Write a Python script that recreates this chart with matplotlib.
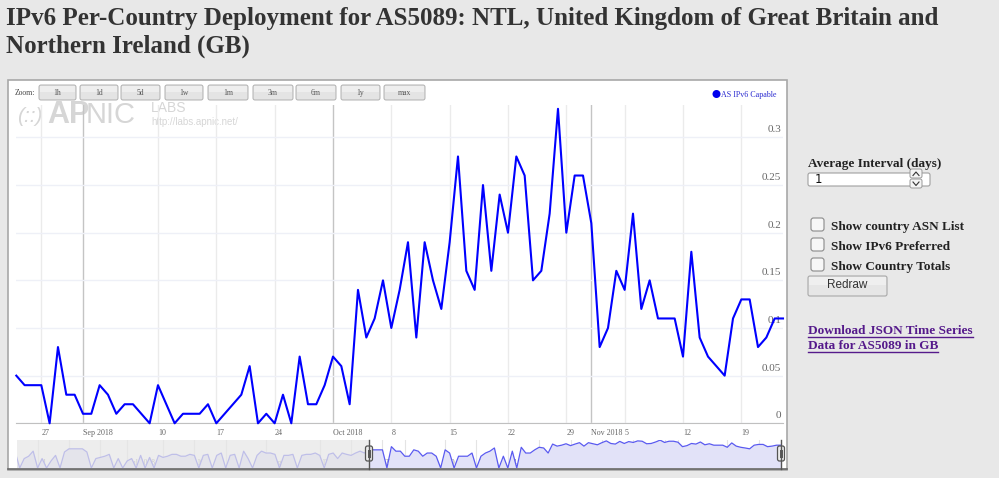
import matplotlib
matplotlib.use('Agg')
import matplotlib.pyplot as plt
import matplotlib.dates as mdates
import matplotlib.transforms as mtransforms
from matplotlib.patches import Rectangle, FancyBboxPatch, Circle
import numpy as np

plt.rcParams['font.family'] = ['Liberation Serif', 'DejaVu Serif']

W, H = 999, 478

# daily "AS IPv6 Capable" ratio, 24 Aug 2018 .. 24 Nov 2018
start = np.datetime64('2018-08-24')
capable = [0.05, 0.04, 0.04, 0.04, 0.0, 0.08, 0.03, 0.03, 0.01, 0.01,
           0.04, 0.03, 0.01, 0.02, 0.02, 0.01, 0.0, 0.04, 0.02, 0.0,
           0.01, 0.01, 0.01, 0.02, 0.0, 0.01, 0.02, 0.03, 0.06, 0.0,
           0.01, 0.0, 0.03, 0.0, 0.07, 0.02, 0.02, 0.04, 0.07, 0.06,
           0.02, 0.14, 0.09, 0.11, 0.15, 0.10, 0.14, 0.19, 0.09, 0.19,
           0.15, 0.12, 0.19, 0.28, 0.16, 0.14, 0.25, 0.16, 0.24, 0.20,
           0.28, 0.26, 0.15, 0.16, 0.22, 0.33, 0.20, 0.26, 0.26, 0.21,
           0.08, 0.10, 0.16, 0.14, 0.22, 0.12, 0.15, 0.11, 0.11, 0.11,
           0.07, 0.18, 0.09, 0.07, 0.06, 0.05, 0.11, 0.13, 0.13, 0.08,
           0.09, 0.11, 0.11]

# older history only visible in the navigator (days before 24 Aug)
nav_early = [0.025, 0.0, 0.008, 0.01, 0.03, 0.0, 0.008, 0.0, 0.006, 0.012,
             0.0, 0.025, 0.05, 0.05, 0.05, 0.05, 0.025, 0.0, 0.008, 0.009,
             0.01, 0.015, 0.0, 0.008, 0.0, 0.006, 0.008, 0.0, 0.012, 0.0,
             0.009, 0.0, 0.012, 0.009, 0.01, 0.015, 0.015, 0.01, 0.01, 0.015,
             0.012, 0.0, 0.012, 0.015, 0.0, 0.012, 0.02, 0.0, 0.012, 0.015,
             0.0, 0.03, 0.008, 0.0, 0.012, 0.03, 0.02, 0.02, 0.015, 0.0,
             0.012, 0.012, 0.015, 0.0, 0.012, 0.015, 0.015, 0.02, 0.012, 0.0,
             0.015, 0.02, 0.008, 0.02, 0.015, 0.012, 0.02, 0.03, 0.02]

main_ticks = ['2018-08-27', '2018-09-01', '2018-09-10', '2018-09-17', '2018-09-24',
              '2018-10-01', '2018-10-08', '2018-10-15', '2018-10-22', '2018-10-29',
              '2018-11-01', '2018-11-05', '2018-11-12', '2018-11-19']
main_labels = ['27', 'Sep 2018', '10', '17', '24', 'Oct 2018', '8', '15', '22', '29',
               'Nov 2018', '5', '12', '19']

nav_ticks = ['2018-06-11', '2018-06-18', '2018-06-25', '2018-07-01', '2018-07-09',
             '2018-07-16', '2018-07-23', '2018-08-01', '2018-08-13', '2018-08-20',
             '2018-08-27', '2018-09-01', '2018-09-10', '2018-09-17', '2018-09-24',
             '2018-10-01', '2018-10-08', '2018-10-15', '2018-10-22', '2018-10-29',
             '2018-11-01', '2018-11-12', '2018-11-19']
nav_labels = ['11', '18', '25', 'Jul 2018', '9', '16', '23', 'Aug 2...', '13', '20',
              '27', 'Sep 2...', '10', '17', '24', 'Oct 2...', '8', '15', '22', '29',
              'Nov 2...', '12', '19']

y_ticks = [0, 0.05, 0.1, 0.15, 0.2, 0.25, 0.3]
y_labels = ['0', '0.05', '0.1', '0.15', '0.2', '0.25', '0.3']

zoom_labels = ['1h', '1d', '5d', '1w', '1m', '3m', '6m', '1y', 'max']
zoom_spans = [(39, 76), (80, 118), (121, 160), (165, 203), (208, 248),
              (253, 293), (296, 336), (341, 380), (384, 425)]
checkbox_labels = ['Show country ASN List', 'Show IPv6 Preferred', 'Show Country Totals']


def fig_rect(l, t, r, b):
    return [l / W, 1 - b / H, (r - l) / W, (b - t) / H]


fig = plt.figure(figsize=(W / 100, H / 100), dpi=100, facecolor='#e8e8e8')

# page layer in pixel coordinates (y downwards)
bg = fig.add_axes([0, 0, 1, 1], zorder=0)
bg.set_xlim(0, W)
bg.set_ylim(H, 0)
bg.axis('off')

t1 = bg.text(6, 18, 'IPv6 Per-Country Deployment for AS5089: NTL, United Kingdom of Great Britain and',
             fontsize=18, fontweight='bold', color='#333333', va='center', ha='left')
t2 = bg.text(6, 46, 'Northern Ireland (GB)',
             fontsize=18, fontweight='bold', color='#333333', va='center', ha='left')

# chart container
bg.add_patch(Rectangle((8, 80), 779, 390, facecolor='white', edgecolor='#a8a8a8', lw=1.2))

# zoom buttons
bg.text(15, 93, 'Zoom:', fontsize=5.5, color='#444444', va='center', ha='left')
for (l, r), lab in zip(zoom_spans, zoom_labels):
    bg.add_patch(FancyBboxPatch((l, 85), r - l, 15, boxstyle='round,pad=0,rounding_size=2',
                                facecolor='#e4e4e4', edgecolor='#b0b0b0', lw=0.7))
    bg.add_patch(Rectangle((l + 1, 86), r - l - 2, 6, facecolor='#eeeeee', lw=0))
    bg.text((l + r) / 2, 93, lab, fontsize=5.5, color='#555555', va='center', ha='center')

# APNIC LABS watermark
wm = '#d6d6d6'
bg.text(17, 116, '(::)', fontsize=15, color=wm, family='Liberation Sans', style='italic',
        va='center', ha='left')
bg.text(47, 115, 'AP', fontsize=22, color=wm, family='Liberation Sans', fontweight='bold',
        va='center', ha='left')
bg.text(86, 115, 'NIC', fontsize=21, color=wm, family='Liberation Sans',
        va='center', ha='left')
bg.text(151, 108, 'LABS', fontsize=10, color=wm, family='Liberation Sans',
        va='center', ha='left')
bg.text(151, 122, 'http://labs.apnic.net/', fontsize=7, color=wm, family='Liberation Sans',
        va='center', ha='left')

# legend
bg.add_patch(Circle((716.5, 94), 3.3, color='#0000ee'))
bg.text(721, 94.5, 'AS IPv6 Capable', fontsize=5.8, color='#2a2ad0', va='center', ha='left')

# right-hand controls
bg.text(808, 164, 'Average Interval (days)', fontsize=9.5, fontweight='bold', color='#222222',
        va='center', ha='left')
bg.add_patch(FancyBboxPatch((808, 173), 122, 13, boxstyle='round,pad=0,rounding_size=2',
                            facecolor='white', edgecolor='#a0a0a0', lw=0.8))
bg.text(815, 179.5, '1', fontsize=8.5, family='DejaVu Sans', color='#111111', va='center', ha='left')
for top in (169, 179):
    bg.add_patch(FancyBboxPatch((910, top), 12, 9, boxstyle='round,pad=0,rounding_size=2',
                                facecolor='#f4f4f4', edgecolor='#999999', lw=0.7))
bg.plot([913, 916, 919], [175.5, 172, 175.5], color='#333333', lw=0.8)
bg.plot([913, 916, 919], [182, 185.5, 182], color='#333333', lw=0.8)

for k, lab in enumerate(checkbox_labels):
    cy = 225 + 20 * k
    bg.add_patch(FancyBboxPatch((811, cy - 7), 13, 13, boxstyle='round,pad=0,rounding_size=2.5',
                                facecolor='#f7f7f7', edgecolor='#8a8a8a', lw=0.8))
    bg.text(831, cy + 2, lab, fontsize=9.5, fontweight='bold', color='#222222',
            va='center', ha='left')

bg.add_patch(FancyBboxPatch((808, 276), 79, 20, boxstyle='round,pad=0,rounding_size=2',
                            facecolor='#e6e6e6', edgecolor='#a8a8a8', lw=0.8))
bg.add_patch(Rectangle((809, 277), 77, 8, facecolor='#efefef', lw=0))
bg.text(847.5, 285.5, 'Redraw', fontsize=8.5, family='Liberation Sans', color='#333333',
        va='center', ha='center')

links = [bg.text(808, 334, 'Download JSON Time Series', fontsize=9.5, fontweight='bold',
                 color='#551a8b', va='baseline', ha='left'),
         bg.text(808, 349, 'Data for AS5089 in GB', fontsize=9.5, fontweight='bold',
                 color='#551a8b', va='baseline', ha='left')]

# main chart
dates = start + np.arange(len(capable))
x = mdates.date2num(dates)
x0 = x[0]

ax = fig.add_axes(fig_rect(16.3, 105, 783, 423.3), zorder=1)
ax.patch.set_visible(False)
ax.set_xlim(x0, x0 + 92)
ax.set_ylim(0, 0.334)

tick_x = mdates.date2num(np.array(main_ticks, dtype='datetime64[D]'))
for tx, lab in zip(tick_x, main_labels):
    ax.axvline(tx, color='#c4c4c4' if '2018' in lab else '#ebebeb', lw=1, zorder=0)
ax.set_xticks(tick_x)
ax.set_xticklabels(main_labels)
ax.tick_params(axis='x', length=0, pad=4, labelsize=5.8, labelcolor='#666666')
for lab in ax.get_xticklabels():
    lab.set_ha('left')

ax.set_yticks(y_ticks)
ax.yaxis.grid(True, color='#eef0f7', lw=1)
ax.tick_params(axis='y', length=0, labelleft=False)
ytrans = mtransforms.offset_copy(mtransforms.blended_transform_factory(ax.transAxes, ax.transData),
                                 fig=fig, x=-2, y=3, units='dots')
for v, s in zip(y_ticks, y_labels):
    ax.text(1.0, v, s, transform=ytrans, ha='right', va='bottom', fontsize=8, color='#666666')

for side in ('top', 'left', 'right'):
    ax.spines[side].set_visible(False)
ax.spines['bottom'].set_color('#c0c0c0')

ax.plot(x, capable, color='#0000ff', lw=1.5, clip_on=False, zorder=3)

# navigator
nav = fig.add_axes(fig_rect(17, 440, 781, 468), zorder=1)
nav_x = np.concatenate([x0 - len(nav_early) + np.arange(len(nav_early)), x])
nav_v = np.array(nav_early + capable)
nav_left = x0 - 352 / 4.478
nav.set_xlim(nav_left, x0 + 92)
nav.set_yscale('symlog', linthresh=0.01)
nav.set_ylim(0, 0.34)
nav.set_xticks([])
nav.set_yticks([])
nav.minorticks_off()
for s in nav.spines.values():
    s.set_visible(False)

ntick_x = mdates.date2num(np.array(nav_ticks, dtype='datetime64[D]'))
ntrans = mtransforms.offset_copy(mtransforms.blended_transform_factory(nav.transData, nav.transAxes),
                                 fig=fig, x=2, y=1, units='dots')
for tx, lab in zip(ntick_x, nav_labels):
    nav.axvline(tx, color='#e4e4e4', lw=0.8, zorder=0)
    nav.text(tx, 0, lab, transform=ntrans, fontsize=5.5, color='#888888',
             ha='left', va='bottom', zorder=1)

nav.fill_between(nav_x, nav_v, 0, color='#e2e2f8', lw=0, zorder=1.5)
nav.plot(nav_x, nav_v, color='#5a5af0', lw=0.9, zorder=2)
nav.axvspan(nav_left, x0, color='#e6e6e6', alpha=0.72, lw=0, zorder=3)

# navigator handles and outline (pixel layer on top)
top = fig.add_axes([0, 0, 1, 1], zorder=2)
top.set_xlim(0, W)
top.set_ylim(H, 0)
top.axis('off')
top.plot([8, 787], [469, 469], color='#666666', lw=1.2)
for hx in (369, 781):
    top.plot([hx, hx], [440, 469], color='#555555', lw=1)
    top.add_patch(FancyBboxPatch((hx - 3.5, 446), 7, 15, boxstyle='round,pad=0,rounding_size=2',
                                 facecolor='#ececec', edgecolor='#555555', lw=0.9))
    top.plot([hx - 1, hx - 1], [450, 457], color='#555555', lw=0.7)
    top.plot([hx + 1, hx + 1], [450, 457], color='#555555', lw=0.7)

# fit the title to the page width and underline the links
fig.canvas.draw()
inv = bg.transData.inverted()
w1 = t1.get_window_extent().width
scale = 934 / w1
t1.set_fontsize(18 * scale)
t2.set_fontsize(18 * scale)
for t in links:
    bb = t.get_window_extent()
    (lx, _), (rx, _) = inv.transform([(bb.x0, bb.y0), (bb.x1, bb.y0)])
    _, by = t.get_position()
    bg.plot([lx, rx], [by + 2.5, by + 2.5], color='#551a8b', lw=1)

fig.savefig('out.png', dpi=100, facecolor=fig.get_facecolor())
